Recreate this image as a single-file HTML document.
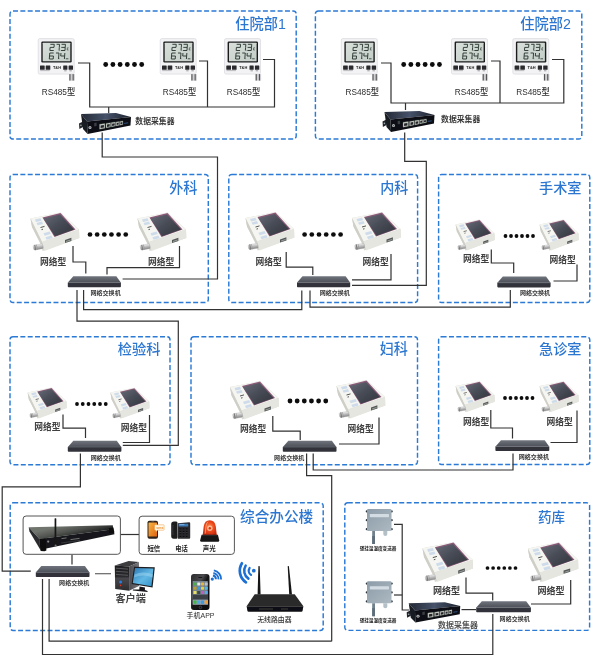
<!DOCTYPE html>
<html lang="zh"><head><meta charset="utf-8"><title>医院温湿度监控系统拓扑图</title>
<style>
html,body{margin:0;padding:0;background:#fff;font-family:"Liberation Sans",sans-serif;}
svg{display:block}
svg text{font-family:"Liberation Sans","Noto Sans CJK SC",sans-serif;}
</style></head><body>
<svg width="600" height="660" viewBox="0 0 600 660">
<filter id="soft" x="0" y="0" width="600" height="660" filterUnits="userSpaceOnUse"><feGaussianBlur stdDeviation="0.35"/></filter>
<g filter="url(#soft)">
<defs>
<linearGradient id="swTop" x1="0" y1="0" x2="0" y2="1"><stop offset="0" stop-color="#70747c"/><stop offset="1" stop-color="#4c5058"/></linearGradient>
<linearGradient id="lcd" x1="0" y1="0" x2="1" y2="1"><stop offset="0" stop-color="#d8dfda"/><stop offset="1" stop-color="#c4cdc7"/></linearGradient>
<linearGradient id="colTop" x1="0" y1="0" x2="1" y2="0"><stop offset="0" stop-color="#232935"/><stop offset="0.5" stop-color="#46526a"/><stop offset="1" stop-color="#1d222e"/></linearGradient>
<linearGradient id="scr" x1="0" y1="0" x2="1" y2="1"><stop offset="0" stop-color="#666a76"/><stop offset="0.5" stop-color="#464a54"/><stop offset="1" stop-color="#33363e"/></linearGradient>
<linearGradient id="mon" x1="0" y1="0" x2="1" y2="1"><stop offset="0" stop-color="#2a78b4"/><stop offset="0.55" stop-color="#62b8e4"/><stop offset="1" stop-color="#3290c8"/></linearGradient>
<linearGradient id="wall" x1="0" y1="0" x2="1" y2="1"><stop offset="0" stop-color="#8c9ca8"/><stop offset="1" stop-color="#adb9c2"/></linearGradient>
<radialGradient id="siren" cx="0.5" cy="0.45" r="0.6"><stop offset="0" stop-color="#ff9a5a"/><stop offset="0.5" stop-color="#ee4a1c"/><stop offset="1" stop-color="#c52a0c"/></radialGradient>
<linearGradient id="cyl" x1="0" y1="0" x2="0" y2="1"><stop offset="0" stop-color="#eeeeee"/><stop offset="0.5" stop-color="#b9b9b9"/><stop offset="1" stop-color="#8a8a8a"/></linearGradient>

<g id="thermo">
 <rect x="0" y="0" width="36" height="35.5" rx="1.6" fill="#f3f3f5" stroke="#d9d9de" stroke-width="0.7"/>
 <rect x="3.1" y="2.9" width="30.4" height="21" rx="1.2" fill="#1b1c1d"/>
 <rect x="4.5" y="4.2" width="27.6" height="18.4" rx="0.5" fill="url(#lcd)"/>
<g transform="translate(1.0 0) skewX(-4.5)" fill="none" stroke="#27342f" stroke-width="0.9" stroke-linecap="butt"><path d="M11.60 5.70h3.90M15.50 5.70v3.10M11.60 8.80h3.90M11.60 8.80v3.10M11.60 11.90h3.90M17.80 5.70h3.00M20.80 5.70v3.10M20.80 8.80v3.10M22.80 5.70h3.90M26.70 5.70v3.10M22.80 8.80h3.90M26.70 8.80v3.10M22.80 11.90h3.90M11.70 14.40h3.90M11.70 14.40v3.00M11.70 17.40h3.90M11.70 17.40v3.00M11.70 20.40h3.90M15.60 17.40v3.00M17.90 14.40h3.00M20.90 14.40v3.00M20.90 17.40v3.00M22.90 14.40v3.00M22.90 17.40h3.90M26.80 14.40v3.00M26.80 17.40v3.00"/><path d="M28.9 9.2h1.2M28.9 9.2v2.2h1.3" stroke-width="0.6"/><path d="M21.6 12v0.4M21.6 20.1v0.4" stroke-width="0.8"/></g><rect x="27.6" y="19.6" width="2.6" height="1.1" fill="#55645e"/>
 <g fill="#2c2c2e"><rect x="1.8" y="26.9" width="4.7" height="4.2" rx="0.5"/><rect x="7.5" y="26.9" width="4.6" height="4.2" rx="0.5"/><rect x="25" y="26.9" width="4.2" height="4.2" rx="0.5"/><rect x="30.4" y="26.9" width="4.4" height="4.2" rx="0.5"/></g>
 <text x="14.7" y="30.2" font-size="3.8" font-weight="bold" fill="#222" textLength="8.1" lengthAdjust="spacingAndGlyphs">T&amp;H</text>
 <rect x="2" y="31.6" width="9.5" height="0.9" fill="#b4b4ba"/>
 <rect x="26" y="31.4" width="2.4" height="1.4" fill="#b4b4ba"/><rect x="31.2" y="31.4" width="2.4" height="1.4" fill="#b4b4ba"/>
 <rect x="30.8" y="35.5" width="5.8" height="6.6" fill="#d0d0d4"/>
 <rect x="31.2" y="35.5" width="1.1" height="6.4" fill="#555"/><rect x="34.4" y="35.5" width="1.1" height="6.4" fill="#555"/>
</g>

<g id="sw">
 <path d="M5.6 0.8 L48.2 0.8 L52.6 7 L0.3 7 Z" fill="url(#swTop)"/>
 <path d="M0.2 7 H52.7 V10.9 Q52.7 11.7 51.9 11.7 H1 Q0.2 11.7 0.2 10.9 Z" fill="#30333a"/>
 <path d="M0.4 7.1 H52.5" stroke="#767a83" stroke-width="0.5"/>
</g>

<g id="col">
 <path d="M3 19.5 L7 17.4 L7 23 L3.4 25 Z" fill="#20232a"/>
 <circle cx="4.9" cy="21.4" r="0.8" fill="#9aa"/>
 <path d="M5 10 L40 9 L55 13 L11 17.5 Z" fill="url(#colTop)"/>
 <path d="M5 10 L11 17.5 L11.5 30 L7 25 Z" fill="#181b22"/>
 <path d="M11 17.5 L55 13 L54.5 21.5 L11.5 30 Z" fill="#0d0f14"/>
 <circle cx="14" cy="23.6" r="1.5" fill="#b8bcc0"/><circle cx="14" cy="23.6" r="0.7" fill="#555"/>
 <rect x="18.2" y="22" width="2.4" height="3.2" fill="#3a3d44" transform="skewY(-9)" />
 <g fill="#c9ccc8" stroke="#6f7d6c" stroke-width="0.3">
  <path d="M23.5 20.3 L28.9 19.5 L28.9 24.3 L23.5 25.2Z"/>
  <path d="M30 19.4 L34.6 18.7 L34.6 23.1 L30 23.9Z"/>
  <path d="M35.3 18.6 L39.5 18 L39.5 22.1 L35.3 22.9Z"/>
  <path d="M40.1 17.9 L43.3 17.4 L43.3 21.3 L40.1 21.9Z"/>
  <path d="M43.8 17.4 L47 16.9 L47 20.6 L43.8 21.2Z"/>
 </g>
 <g fill="#25272b">
  <path d="M24.6 21.5 L27.9 21 L27.9 23.6 L24.6 24.1Z"/><path d="M31 20.5 L33.7 20.1 L33.7 22.4 L31 22.9Z"/><path d="M36.1 19.7 L38.7 19.3 L38.7 21.4 L36.1 21.9Z"/><path d="M40.8 18.9 L42.7 18.6 L42.7 20.6 L40.8 21Z"/><path d="M44.4 18.4 L46.4 18.1 L46.4 19.9 L44.4 20.3Z"/>
 </g>
 <path d="M48.2 19.4 L52.2 18.8" stroke="#3a6ab0" stroke-width="0.7"/>
</g>

<g id="ns">
 <path d="M4.5 10.5 L34.5 4.5 L53 21.5 L53.3 30 L16.5 43 L15.5 38 L6 19 Z" fill="#d9d9d2"/>
 <path d="M4.5 10.5 L34.5 4.5 L53 21.5 L16 34 Z" fill="#f5f5f1"/>
 <path d="M16 34 L53 21.5 L53.3 30 L18.5 43 Z" fill="#e6e6e0"/>
 <path d="M4.5 10.5 L16 34 L18.5 43 L6 19 Z" fill="#cfcfc8"/>
 <path d="M16.5 9.5 L34.5 5 L49.5 21.5 L28.5 29 Z" fill="#8a5a78"/>
 <path d="M17.4 10.4 L34 6.4 L48 21.6 L29 28.2 Z" fill="url(#scr)"/>
 <g fill="#cddbea"><path d="M9 11.5 L14.5 10.3 L15.6 12.7 L10.1 14Z"/><path d="M10.6 14.9 L16 13.6 L17.1 16 L11.7 17.3Z"/>
 <path d="M17.5 25.2 L23.6 23.5 L24.8 26 L18.7 27.8Z"/><path d="M19.4 29.2 L25.4 27.4 L26.6 30 L20.6 31.8Z"/></g>
 <path d="M14.5 19.5 L18.5 18.4 M15.5 21.6 L17 21.2" stroke="#444" stroke-width="0.9"/>
 <path d="M39 31.9 L45.4 29.8 L45.4 32.9 L39 35Z" fill="#55585a"/>
 <path d="M40 33 L44.6 31.5 L44.6 32.5 L40 34Z" fill="#9aa39a"/>
 <g transform="rotate(-10 12 39)"><rect x="7.4" y="36.6" width="9.6" height="4.8" rx="1.1" fill="url(#cyl)" stroke="#9a9a9a" stroke-width="0.3"/><rect x="8.6" y="36.4" width="1.1" height="5.2" fill="#7a7a7a"/><rect x="10.6" y="36.4" width="0.7" height="5.2" fill="#999"/></g>
</g>

<g id="wsen">
 <rect x="5.2" y="22" width="2.8" height="13" fill="#6f808c"/>
 <rect x="5.2" y="27" width="2.8" height="8" fill="#5e6e7a"/>
 <path d="M16.3 22 h4 v3 q0 2 -2 2 q-2 0 -2 -2 Z" fill="#b4c0c8"/>
 <g fill="#2f373f"><circle cx="-0.2" cy="2.4" r="1.1"/><circle cx="-0.2" cy="11.2" r="1.1"/><circle cx="-0.2" cy="20.2" r="1.1"/><circle cx="24.7" cy="2.4" r="1.1"/><circle cx="24.7" cy="11.2" r="1.1"/><circle cx="24.7" cy="20.2" r="1.1"/></g>
 <rect x="0" y="0" width="24.5" height="22" rx="1.2" fill="url(#wall)"/>
 <rect x="2.8" y="5" width="19.2" height="3.2" rx="0.6" fill="#d3dce2"/>
</g>
</defs>
<rect x="0" y="0" width="600" height="660" fill="#ffffff"/>
<rect x="10" y="10.9" width="286.2" height="128.2" rx="3" fill="none" stroke="#2b7ad6" stroke-width="1.45" stroke-dasharray="5 2.35"/>
<rect x="315.4" y="10.9" width="266.4" height="128.2" rx="3" fill="none" stroke="#2b7ad6" stroke-width="1.45" stroke-dasharray="5 2.35"/>
<rect x="10" y="174.4" width="198.3" height="128.1" rx="3" fill="none" stroke="#2b7ad6" stroke-width="1.45" stroke-dasharray="5 2.35"/>
<rect x="228.8" y="174.4" width="188.8" height="128.1" rx="3" fill="none" stroke="#2b7ad6" stroke-width="1.45" stroke-dasharray="5 2.35"/>
<rect x="438.6" y="174.4" width="151.19999999999993" height="128.1" rx="3" fill="none" stroke="#2b7ad6" stroke-width="1.45" stroke-dasharray="5 2.35"/>
<rect x="10" y="336.8" width="160" height="127.89999999999998" rx="3" fill="none" stroke="#2b7ad6" stroke-width="1.45" stroke-dasharray="5 2.35"/>
<rect x="191" y="336.8" width="226.5" height="127.89999999999998" rx="3" fill="none" stroke="#2b7ad6" stroke-width="1.45" stroke-dasharray="5 2.35"/>
<rect x="438.6" y="336.8" width="151.19999999999993" height="127.80000000000001" rx="3" fill="none" stroke="#2b7ad6" stroke-width="1.45" stroke-dasharray="5 2.35"/>
<rect x="10.2" y="502.8" width="313.0" height="127.69999999999999" rx="3" fill="none" stroke="#2b7ad6" stroke-width="1.45" stroke-dasharray="5 2.35"/>
<rect x="344.8" y="502.8" width="244.8" height="127.59999999999997" rx="3" fill="none" stroke="#2b7ad6" stroke-width="1.45" stroke-dasharray="5 2.35"/>
<polyline points="78,63 89.7,63 89.7,107 274.5,107 274.5,59.5 263,59.5" fill="none" stroke="#303030" stroke-width="1.2"/>
<polyline points="199,61 207.5,61 207.5,107" fill="none" stroke="#303030" stroke-width="1.2"/>
<polyline points="108.7,107 108.7,113" fill="none" stroke="#303030" stroke-width="1.2"/>
<polyline points="102.2,132.5 102.2,157 217.5,157 217.5,279 122.6,279" fill="none" stroke="#303030" stroke-width="1.2"/>
<polyline points="381,63 391,63 391,103 563.8,103 563.8,59.5 552,59.5" fill="none" stroke="#303030" stroke-width="1.2"/>
<polyline points="491,61 500,61 500,103" fill="none" stroke="#303030" stroke-width="1.2"/>
<polyline points="405.5,103 405.5,110" fill="none" stroke="#303030" stroke-width="1.2"/>
<polyline points="404.7,132.5 404.7,161.4 426.3,161.4 426.3,285.4 352,285.4" fill="none" stroke="#303030" stroke-width="1.2"/>
<polyline points="73,246 73,262 85.8,262 85.8,273.5" fill="none" stroke="#303030" stroke-width="1.2"/>
<polyline points="179.5,246 179.5,267.6 107,267.6 107,274.5" fill="none" stroke="#303030" stroke-width="1.2"/>
<polyline points="83.6,290 83.6,309.7 301.8,309.7 301.8,290.5" fill="none" stroke="#303030" stroke-width="1.2"/>
<polyline points="77,290 77,321.2 178.3,321.2 178.3,445.3 122.8,445.3" fill="none" stroke="#303030" stroke-width="1.2"/>
<polyline points="286.2,252 286.2,267.2 312.8,267.2 312.8,275" fill="none" stroke="#303030" stroke-width="1.2"/>
<polyline points="391,254 391,279.8 352,279.8" fill="none" stroke="#303030" stroke-width="1.2"/>
<polyline points="310,290.5 310,307.2 510.3,307.2 510.3,290" fill="none" stroke="#303030" stroke-width="1.2"/>
<polyline points="491.3,249.5 491.3,263 513.7,263 513.7,273" fill="none" stroke="#303030" stroke-width="1.2"/>
<polyline points="577,264.5 577,281 553.5,281" fill="none" stroke="#303030" stroke-width="1.2"/>
<polyline points="63,414.5 63,428.2 85.5,428.2 85.5,438" fill="none" stroke="#303030" stroke-width="1.2"/>
<polyline points="149.5,415 149.5,442.5 122.8,442.5" fill="none" stroke="#303030" stroke-width="1.2"/>
<polyline points="80.4,453.5 80.4,486.8 2.2,486.8 2.2,571.2 30.8,571.2" fill="none" stroke="#303030" stroke-width="1.2"/>
<polyline points="272.8,416 272.8,431.2 300.2,431.2 300.2,440" fill="none" stroke="#303030" stroke-width="1.2"/>
<polyline points="379,417.5 379,444 339,444" fill="none" stroke="#303030" stroke-width="1.2"/>
<polyline points="306.6,453.5 306.6,475.6 331.7,475.6 331.7,641.2" fill="none" stroke="#303030" stroke-width="1.2"/>
<polyline points="313.2,453.5 313.2,470 513,470 513,453.5" fill="none" stroke="#303030" stroke-width="1.2"/>
<polyline points="490.8,410 490.8,428 512.5,428 512.5,438.5" fill="none" stroke="#303030" stroke-width="1.2"/>
<polyline points="577,410.5 577,442.5 550.5,442.5" fill="none" stroke="#303030" stroke-width="1.2"/>
<polyline points="120.5,534.5 139,534.5" fill="none" stroke="#303030" stroke-width="1.2"/>
<polyline points="72,554.5 72,564.5" fill="none" stroke="#303030" stroke-width="1.2"/>
<polyline points="95,573.7 111,573.7" fill="none" stroke="#666" stroke-width="1.2"/>
<polyline points="49.1,579 49.1,641.2 331.7,641.2" fill="none" stroke="#303030" stroke-width="1.2"/>
<polyline points="42.5,579 42.5,654.5 492.8,654.5 492.8,614" fill="none" stroke="#303030" stroke-width="1.2"/>
<polyline points="394,524.3 402.2,524.3 402.2,610 409,610" fill="none" stroke="#303030" stroke-width="1.2"/>
<polyline points="394,595 402.3,595" fill="none" stroke="#303030" stroke-width="1.2"/>
<polyline points="461.5,609.6 476,609.6" fill="none" stroke="#303030" stroke-width="1.2"/>
<polyline points="466,577.5 466,593.2 492.7,593.2 492.7,600.5" fill="none" stroke="#303030" stroke-width="1.2"/>
<polyline points="570.7,580 570.7,604 531,604" fill="none" stroke="#303030" stroke-width="1.2"/>
<use href="#thermo" x="38.2" y="38.6"/>
<use href="#thermo" x="160.2" y="38.6"/>
<use href="#thermo" x="224.5" y="38.6"/>
<use href="#thermo" x="341.3" y="38.6"/>
<use href="#thermo" x="451.5" y="38.6"/>
<use href="#thermo" x="512.8" y="38.6"/>
<text x="41.7" y="95.2" font-size="9" font-weight="500" fill="#2e2e2e" textLength="33.5" lengthAdjust="spacingAndGlyphs">RS485型</text>
<text x="162.7" y="95.2" font-size="9" font-weight="500" fill="#2e2e2e" textLength="33.5" lengthAdjust="spacingAndGlyphs">RS485型</text>
<text x="226.7" y="95.2" font-size="9" font-weight="500" fill="#2e2e2e" textLength="33.5" lengthAdjust="spacingAndGlyphs">RS485型</text>
<text x="345.5" y="95.2" font-size="9" font-weight="500" fill="#2e2e2e" textLength="33.5" lengthAdjust="spacingAndGlyphs">RS485型</text>
<text x="454.7" y="95.2" font-size="9" font-weight="500" fill="#2e2e2e" textLength="33.5" lengthAdjust="spacingAndGlyphs">RS485型</text>
<text x="516.2" y="95.2" font-size="9" font-weight="500" fill="#2e2e2e" textLength="33.5" lengthAdjust="spacingAndGlyphs">RS485型</text>
<circle cx="105.70" cy="64.5" r="2.4" fill="#0a0a0a"/>
<circle cx="112.90" cy="64.5" r="2.4" fill="#0a0a0a"/>
<circle cx="120.10" cy="64.5" r="2.4" fill="#0a0a0a"/>
<circle cx="127.30" cy="64.5" r="2.4" fill="#0a0a0a"/>
<circle cx="134.50" cy="64.5" r="2.4" fill="#0a0a0a"/>
<circle cx="141.70" cy="64.5" r="2.4" fill="#0a0a0a"/>
<circle cx="403.70" cy="64.5" r="2.4" fill="#0a0a0a"/>
<circle cx="410.85" cy="64.5" r="2.4" fill="#0a0a0a"/>
<circle cx="418.00" cy="64.5" r="2.4" fill="#0a0a0a"/>
<circle cx="425.15" cy="64.5" r="2.4" fill="#0a0a0a"/>
<circle cx="432.30" cy="64.5" r="2.4" fill="#0a0a0a"/>
<circle cx="439.45" cy="64.5" r="2.4" fill="#0a0a0a"/>
<use href="#col" x="76" y="104"/>
<use href="#col" x="379.5" y="102"/>
<text x="135.3" y="124" font-size="7.8" font-weight="bold" fill="#3a3a3a" textLength="39.2" lengthAdjust="spacingAndGlyphs">数据采集器</text>
<text x="441.1" y="122" font-size="7.8" font-weight="bold" fill="#3a3a3a" textLength="39.2" lengthAdjust="spacingAndGlyphs">数据采集器</text>
<text x="235.3" y="28.8" font-size="14.5" font-weight="500" fill="#2c76d0" textLength="50.5" lengthAdjust="spacingAndGlyphs">住院部1</text>
<text x="520.3" y="28.8" font-size="14.5" font-weight="500" fill="#2c76d0" textLength="50.7" lengthAdjust="spacingAndGlyphs">住院部2</text>
<use href="#ns" transform="translate(26 208) scale(1.0)"/>
<use href="#ns" transform="translate(133 208) scale(1.0)"/>
<text x="39.9" y="264.6" font-size="8.8" font-weight="bold" fill="#404040" textLength="26.3" lengthAdjust="spacingAndGlyphs">网络型</text>
<text x="147.9" y="264.6" font-size="8.8" font-weight="bold" fill="#404040" textLength="26.3" lengthAdjust="spacingAndGlyphs">网络型</text>
<circle cx="90.00" cy="234.5" r="2.35" fill="#0a0a0a"/>
<circle cx="97.15" cy="234.5" r="2.35" fill="#0a0a0a"/>
<circle cx="104.30" cy="234.5" r="2.35" fill="#0a0a0a"/>
<circle cx="111.45" cy="234.5" r="2.35" fill="#0a0a0a"/>
<circle cx="118.60" cy="234.5" r="2.35" fill="#0a0a0a"/>
<circle cx="125.75" cy="234.5" r="2.35" fill="#0a0a0a"/>
<use href="#sw" transform="translate(67.6 275.5) scale(1.0114068441064639 1)"/>
<text x="90.5" y="295.3" font-size="6" font-weight="bold" fill="#363636" textLength="30.2" lengthAdjust="spacingAndGlyphs">网络交换机</text>
<text x="169.2" y="193" font-size="14.4" font-weight="500" fill="#2c76d0" textLength="28.2" lengthAdjust="spacingAndGlyphs">外科</text>
<use href="#ns" transform="translate(241 207.5) scale(1.0)"/>
<use href="#ns" transform="translate(347.5 207.5) scale(1.0)"/>
<text x="255.4" y="264.6" font-size="8.8" font-weight="bold" fill="#404040" textLength="26.3" lengthAdjust="spacingAndGlyphs">网络型</text>
<text x="362.4" y="264.6" font-size="8.8" font-weight="bold" fill="#404040" textLength="26.3" lengthAdjust="spacingAndGlyphs">网络型</text>
<circle cx="304.60" cy="234.5" r="2.35" fill="#0a0a0a"/>
<circle cx="311.80" cy="234.5" r="2.35" fill="#0a0a0a"/>
<circle cx="319.00" cy="234.5" r="2.35" fill="#0a0a0a"/>
<circle cx="326.20" cy="234.5" r="2.35" fill="#0a0a0a"/>
<circle cx="333.40" cy="234.5" r="2.35" fill="#0a0a0a"/>
<circle cx="340.60" cy="234.5" r="2.35" fill="#0a0a0a"/>
<use href="#sw" transform="translate(296.8 275.5) scale(1.0133079847908744 1)"/>
<text x="319.7" y="295.3" font-size="6" font-weight="bold" fill="#363636" textLength="30.2" lengthAdjust="spacingAndGlyphs">网络交换机</text>
<text x="380.3" y="193" font-size="14.4" font-weight="500" fill="#2c76d0" textLength="28" lengthAdjust="spacingAndGlyphs">内科</text>
<use href="#ns" transform="translate(452 216) scale(0.8)"/>
<use href="#ns" transform="translate(536 216) scale(0.8)"/>
<text x="462.9" y="261.6" font-size="8.8" font-weight="bold" fill="#404040" textLength="26.3" lengthAdjust="spacingAndGlyphs">网络型</text>
<text x="549.4" y="262.6" font-size="8.8" font-weight="bold" fill="#404040" textLength="26.3" lengthAdjust="spacingAndGlyphs">网络型</text>
<circle cx="505.50" cy="236" r="1.9" fill="#0a0a0a"/>
<circle cx="511.00" cy="236" r="1.9" fill="#0a0a0a"/>
<circle cx="516.50" cy="236" r="1.9" fill="#0a0a0a"/>
<circle cx="522.00" cy="236" r="1.9" fill="#0a0a0a"/>
<circle cx="527.50" cy="236" r="1.9" fill="#0a0a0a"/>
<circle cx="533.00" cy="236" r="1.9" fill="#0a0a0a"/>
<use href="#sw" transform="translate(497.1 275.7) scale(1.015209125475285 1)"/>
<text x="519.9" y="295.3" font-size="6" font-weight="bold" fill="#363636" textLength="30.2" lengthAdjust="spacingAndGlyphs">网络交换机</text>
<text x="539" y="193.1" font-size="14.2" font-weight="500" fill="#2c76d0" textLength="42.5" lengthAdjust="spacingAndGlyphs">手术室</text>
<use href="#ns" transform="translate(24 384) scale(0.8)"/>
<use href="#ns" transform="translate(106.8 384.2) scale(0.8)"/>
<text x="34.2" y="430" font-size="8.8" font-weight="bold" fill="#404040" textLength="26.3" lengthAdjust="spacingAndGlyphs">网络型</text>
<text x="120.7" y="431.4" font-size="8.8" font-weight="bold" fill="#404040" textLength="26.3" lengthAdjust="spacingAndGlyphs">网络型</text>
<circle cx="77.00" cy="404" r="1.9" fill="#0a0a0a"/>
<circle cx="82.75" cy="404" r="1.9" fill="#0a0a0a"/>
<circle cx="88.50" cy="404" r="1.9" fill="#0a0a0a"/>
<circle cx="94.25" cy="404" r="1.9" fill="#0a0a0a"/>
<circle cx="100.00" cy="404" r="1.9" fill="#0a0a0a"/>
<circle cx="105.75" cy="404" r="1.9" fill="#0a0a0a"/>
<use href="#sw" transform="translate(67.6 440) scale(1.0209125475285172 1)"/>
<text x="90.7" y="459.7" font-size="6" font-weight="bold" fill="#363636" textLength="30.2" lengthAdjust="spacingAndGlyphs">网络交换机</text>
<text x="117.7" y="354.2" font-size="14.2" font-weight="500" fill="#2c76d0" textLength="42.8" lengthAdjust="spacingAndGlyphs">检验科</text>
<use href="#ns" transform="translate(225.5 376.5) scale(1.0)"/>
<use href="#ns" transform="translate(332 375.5) scale(1.0)"/>
<text x="239.9" y="431.6" font-size="8.8" font-weight="bold" fill="#404040" textLength="26.3" lengthAdjust="spacingAndGlyphs">网络型</text>
<text x="347.4" y="431.6" font-size="8.8" font-weight="bold" fill="#404040" textLength="26.3" lengthAdjust="spacingAndGlyphs">网络型</text>
<circle cx="290.00" cy="401" r="2.4" fill="#0a0a0a"/>
<circle cx="297.15" cy="401" r="2.4" fill="#0a0a0a"/>
<circle cx="304.30" cy="401" r="2.4" fill="#0a0a0a"/>
<circle cx="311.45" cy="401" r="2.4" fill="#0a0a0a"/>
<circle cx="318.60" cy="401" r="2.4" fill="#0a0a0a"/>
<circle cx="325.75" cy="401" r="2.4" fill="#0a0a0a"/>
<use href="#sw" transform="translate(282.6 440) scale(1.0228136882129277 1)"/>
<text x="274.1" y="459.8" font-size="6" font-weight="bold" fill="#363636" textLength="30.2" lengthAdjust="spacingAndGlyphs">网络交换机</text>
<text x="379.7" y="354.2" font-size="14.4" font-weight="500" fill="#2c76d0" textLength="28.2" lengthAdjust="spacingAndGlyphs">妇科</text>
<use href="#ns" transform="translate(452 377.7) scale(0.8)"/>
<use href="#ns" transform="translate(536 377.7) scale(0.8)"/>
<text x="462.9" y="424.6" font-size="8.8" font-weight="bold" fill="#404040" textLength="26.3" lengthAdjust="spacingAndGlyphs">网络型</text>
<text x="546.4" y="424.6" font-size="8.8" font-weight="bold" fill="#404040" textLength="26.3" lengthAdjust="spacingAndGlyphs">网络型</text>
<circle cx="505.00" cy="398" r="1.9" fill="#0a0a0a"/>
<circle cx="510.50" cy="398" r="1.9" fill="#0a0a0a"/>
<circle cx="516.00" cy="398" r="1.9" fill="#0a0a0a"/>
<circle cx="521.50" cy="398" r="1.9" fill="#0a0a0a"/>
<circle cx="527.00" cy="398" r="1.9" fill="#0a0a0a"/>
<circle cx="532.50" cy="398" r="1.9" fill="#0a0a0a"/>
<use href="#sw" transform="translate(495.2 439.4) scale(1.026615969581749 1)"/>
<text x="518.8" y="459" font-size="6" font-weight="bold" fill="#363636" textLength="30.2" lengthAdjust="spacingAndGlyphs">网络交换机</text>
<text x="539" y="354.2" font-size="14.2" font-weight="500" fill="#2c76d0" textLength="42.5" lengthAdjust="spacingAndGlyphs">急诊室</text>
<text x="240.1" y="522" font-size="14.5" font-weight="500" fill="#2c76d0" textLength="73" lengthAdjust="spacingAndGlyphs">综合办公楼</text>
<rect x="23.1" y="516" width="97.3" height="38.3" rx="3" fill="#fff" stroke="#555" stroke-width="1"/>
<rect x="139.1" y="516.2" width="95.3" height="38.2" rx="3" fill="#fff" stroke="#555" stroke-width="1"/>
<g>
<linearGradient id="srvTop" gradientUnits="userSpaceOnUse" x1="70" y1="524" x2="73" y2="537"><stop offset="0" stop-color="#70746e"/><stop offset="0.5" stop-color="#50534f"/><stop offset="1" stop-color="#242625"/></linearGradient>
<path d="M28.7 527.3 L112.8 525.3 L113.3 529.3 L39.5 539 Z" fill="url(#srvTop)"/>
<path d="M28.7 527.3 L39.5 539 L40.3 549.8 L29.5 531.5 Z" fill="#2a2c2e"/>
<path d="M39.5 539 L113.3 529.3 L114.5 534.3 L40.3 549.8 Z" fill="#17191b"/>
<path d="M39.5 539 L45.6 538.2 L46.4 550.4 L44.5 551.2 L40.6 551 Z" fill="#0c0d0e"/>
<path d="M108.6 528.2 L113.4 527.6 L114.4 532.6 L109.4 533.4 Z" fill="#0c0d0e"/>
<rect x="54.6" y="518.2" width="1.7" height="26.6" rx="0.6" fill="#141414"/>
<circle cx="55.6" cy="545.4" r="1" fill="#777"/>
<circle cx="48.2" cy="541.6" r="1.1" fill="#8a8a8a"/>
<path d="M61.5 538.6 L66.5 537.9 M70.5 539.6 L79.5 538.4" stroke="#8a8a8a" stroke-width="0.8"/>
<path d="M61 543 L80 540.4" stroke="#55585b" stroke-width="0.5"/>
</g>
<g>
<linearGradient id="smsScr" x1="0" y1="0" x2="1" y2="1"><stop offset="0" stop-color="#f9b445"/><stop offset="1" stop-color="#de6410"/></linearGradient>
<rect x="147.5" y="520.7" width="10.5" height="18" rx="1.9" fill="#2e221a"/>
<rect x="148.5" y="522.6" width="8.5" height="14" rx="0.4" fill="url(#smsScr)"/>
<rect x="151.4" y="521.4" width="2.8" height="0.5" rx="0.25" fill="#7a6a5a"/>
<path d="M155.2 524.8 h8.3 q0.6 0 0.6 0.6 v4.2 q0 0.6 -0.6 0.6 h-5.9 l-1.7 1.5 v-1.5 h-0.7 q-0.6 0 -0.6 -0.6 v-4.2 q0 -0.6 0.6 -0.6 Z" fill="#fffaf0" stroke="#f09a38" stroke-width="0.5"/>
<text x="156.2" y="529.1" font-size="4" font-weight="bold" fill="#ee8a22" textLength="7.2" lengthAdjust="spacingAndGlyphs">sms</text>
<path d="M171.2 524.2 Q171.2 521.5 174 521.5 L176.2 521.5 Q177.6 521.5 177.5 523 L177.6 537.2 Q177.6 538.7 176.2 538.7 L173.6 538.7 Q171.2 538.7 171.2 536 Z" fill="#1c1c1e"/>
<path d="M173 525 Q172.6 530 173 535" stroke="#4a4a4e" stroke-width="0.6" fill="none"/>
<path d="M177.9 523.3 L189.2 522.2 Q190.2 522.2 190.2 523.2 L190.2 537.7 Q190.2 538.7 189.2 538.7 L177.9 538.7 Z" fill="#2b2b2e"/>
<rect x="178.6" y="523.8" width="9.6" height="2.7" rx="0.3" fill="#3d7ab8"/>
<rect x="179.4" y="524.4" width="5" height="0.7" fill="#9cc8ee"/>
<rect x="179.3" y="528.0" width="2.3" height="1.6" rx="0.3" fill="#0b0b0c" stroke="#4a4a4e" stroke-width="0.25"/><rect x="182.4" y="528.0" width="2.3" height="1.6" rx="0.3" fill="#0b0b0c" stroke="#4a4a4e" stroke-width="0.25"/><rect x="185.5" y="528.0" width="2.3" height="1.6" rx="0.3" fill="#0b0b0c" stroke="#4a4a4e" stroke-width="0.25"/><rect x="179.3" y="530.5" width="2.3" height="1.6" rx="0.3" fill="#0b0b0c" stroke="#4a4a4e" stroke-width="0.25"/><rect x="182.4" y="530.5" width="2.3" height="1.6" rx="0.3" fill="#0b0b0c" stroke="#4a4a4e" stroke-width="0.25"/><rect x="185.5" y="530.5" width="2.3" height="1.6" rx="0.3" fill="#0b0b0c" stroke="#4a4a4e" stroke-width="0.25"/><rect x="179.3" y="533.0" width="2.3" height="1.6" rx="0.3" fill="#0b0b0c" stroke="#4a4a4e" stroke-width="0.25"/><rect x="182.4" y="533.0" width="2.3" height="1.6" rx="0.3" fill="#0b0b0c" stroke="#4a4a4e" stroke-width="0.25"/><rect x="185.5" y="533.0" width="2.3" height="1.6" rx="0.3" fill="#0b0b0c" stroke="#4a4a4e" stroke-width="0.25"/><rect x="179.3" y="535.5" width="2.3" height="1.6" rx="0.3" fill="#0b0b0c" stroke="#4a4a4e" stroke-width="0.25"/><rect x="182.4" y="535.5" width="2.3" height="1.6" rx="0.3" fill="#0b0b0c" stroke="#4a4a4e" stroke-width="0.25"/><rect x="185.5" y="535.5" width="2.3" height="1.6" rx="0.3" fill="#0b0b0c" stroke="#4a4a4e" stroke-width="0.25"/>
<path d="M202.7 535 L203.7 526.6 Q204.6 520.3 209.75 520.3 Q214.9 520.3 215.8 526.6 L216.8 535 Z" fill="url(#siren)"/>
<path d="M205.2 533.6 L205.9 526.6 Q206.3 523 208 521.8" stroke="#ffb98a" stroke-width="0.9" fill="none" opacity="0.8"/>
<circle cx="209.8" cy="528.2" r="2.7" fill="#ffd2b4" opacity="0.75"/>
<circle cx="209.8" cy="528.2" r="1.2" fill="#d8380c"/>
<path d="M201.6 534.8 H217.9 L219.2 540.2 Q219.4 541.7 217.9 541.7 H201.5 Q200 541.7 200.2 540.2 Z" fill="#151515"/>
<path d="M202 535.4 H217.6" stroke="#4a4a4a" stroke-width="0.5"/>
</g>
<text x="147.4" y="551.2" font-size="6.4" font-weight="bold" fill="#222" textLength="12.8" lengthAdjust="spacingAndGlyphs">短信</text>
<text x="175.2" y="551.2" font-size="6.4" font-weight="bold" fill="#222" textLength="12.6" lengthAdjust="spacingAndGlyphs">电话</text>
<text x="202.7" y="551.2" font-size="6.4" font-weight="bold" fill="#222" textLength="12.9" lengthAdjust="spacingAndGlyphs">声光</text>
<use href="#sw" transform="translate(35.6 565.3) scale(1.0228136882129277 1)"/>
<text x="59.1" y="584.8" font-size="6" font-weight="bold" fill="#363636" textLength="30.2" lengthAdjust="spacingAndGlyphs">网络交换机</text>
<g>
<linearGradient id="twSide" x1="0" y1="0" x2="1" y2="0"><stop offset="0" stop-color="#4a4a4e"/><stop offset="1" stop-color="#77777b"/></linearGradient>
<linearGradient id="twFront" x1="0" y1="0" x2="0" y2="1"><stop offset="0" stop-color="#1e1e20"/><stop offset="0.45" stop-color="#2a2a2d"/><stop offset="0.5" stop-color="#48484c"/><stop offset="1" stop-color="#2c2c2f"/></linearGradient>
<path d="M114.75 565.5 L128.7 561 L139 561.9 L129.15 566.4 Z" fill="#3c3c3f"/>
<path d="M129.15 566.4 L139 561.9 L139 586 L129.15 590.7 Z" fill="url(#twSide)"/>
<path d="M114.75 565.5 L129.15 566.4 L129.15 590.7 L115.2 588.9 Z" fill="url(#twFront)"/>
<path d="M116 568.2 L128 569.1 M116 571.3 L128 572.2 M116 574.4 L128 575.3" stroke="#5c5c60" stroke-width="0.9"/>
<circle cx="120.6" cy="582.1" r="1.5" fill="#2a7be0"/><circle cx="120.6" cy="585.4" r="0.8" fill="#e03020"/>
<path d="M139.5 586.6 L145 587.4 L144.9 590 L147.6 591 L147.5 592 L132.8 590.6 L132.9 589.6 L139.3 589.4 Z" fill="#19191b"/>
<path d="M134.1 566.8 L154.8 567.25 L152.55 587.5 L131.6 583.9 Z" fill="#1b1d21"/>
<path d="M135 568.1 L153.5 568.5 L151.4 586.2 L132.8 582.9 Z" fill="url(#mon)"/>
<path d="M134.6 574.5 Q143 570.5 152.9 574.2 L152.5 577.4 Q143 573.4 134 577.6 Z" fill="#a8dcf4" opacity="0.45"/>
</g>
<text x="115.4" y="602.4" font-size="10" font-weight="bold" fill="#444" textLength="30.4" lengthAdjust="spacingAndGlyphs">客户端</text>
<g>
<linearGradient id="phb" x1="0" y1="0" x2="1" y2="1"><stop offset="0" stop-color="#2a2a2c"/><stop offset="0.35" stop-color="#4a4a4e"/><stop offset="0.5" stop-color="#141416"/><stop offset="1" stop-color="#0c0c0e"/></linearGradient>
<rect x="191" y="574.1" width="18.5" height="35.8" rx="2.9" fill="url(#phb)"/>
<rect x="192.7" y="581" width="15.1" height="23.6" fill="#77838f"/>
<rect x="192.8" y="594.6" width="15.2" height="5" fill="#3a3f47"/>
<rect x="192.8" y="599.8" width="15.2" height="4.8" fill="#98a2ac"/>
<rect x="193.5" y="582.4" width="3" height="3" rx="0.6" fill="#4ab04a"/><rect x="197.25" y="582.4" width="3" height="3" rx="0.6" fill="#e8e8e8"/><rect x="201.0" y="582.4" width="3" height="3" rx="0.6" fill="#e8b838"/><rect x="204.75" y="582.4" width="3" height="3" rx="0.6" fill="#b8c0c8"/><rect x="193.5" y="586.7" width="3" height="3" rx="0.6" fill="#b8a030"/><rect x="197.25" y="586.7" width="3" height="3" rx="0.6" fill="#3a9ae0"/><rect x="201.0" y="586.7" width="3" height="3" rx="0.6" fill="#e8d040"/><rect x="204.75" y="586.7" width="3" height="3" rx="0.6" fill="#50b8e0"/><rect x="193.5" y="591.0" width="3" height="3" rx="0.6" fill="#e8e060"/><rect x="197.25" y="591.0" width="3" height="3" rx="0.6" fill="#40464e"/><rect x="201.0" y="591.0" width="3" height="3" rx="0.6" fill="#c060c0"/><rect x="204.75" y="591.0" width="3" height="3" rx="0.6" fill="#5aa8e8"/><rect x="193.5" y="600.6" width="3" height="3.2" rx="0.6" fill="#3cb84a"/><rect x="197.25" y="600.6" width="3" height="3.2" rx="0.6" fill="#48a8e8"/><rect x="201.0" y="600.6" width="3" height="3.2" rx="0.6" fill="#3a9ae0"/><rect x="204.75" y="600.6" width="3" height="3.2" rx="0.6" fill="#f0a030"/>
<circle cx="200.4" cy="607.4" r="1.3" fill="none" stroke="#6a6a6e" stroke-width="0.5"/>
<rect x="198.4" y="577.3" width="4" height="0.8" rx="0.4" fill="#050506"/>
</g>
<g fill="none" stroke="#1c6fd4" stroke-linecap="butt">
<circle cx="212.3" cy="579.1" r="1.6" fill="#1c6fd4" stroke="none"/>
<path d="M212.93 575.55 A3.6 3.6 0 0 1 215.90 579.29" stroke-width="1.9"/>
<path d="M213.38 572.99 A6.2 6.2 0 0 1 218.49 579.42" stroke-width="1.9"/>
<path d="M213.83 570.43 A8.8 8.8 0 0 1 221.09 579.56" stroke-width="1.9"/>
</g>
<g fill="none" stroke="#1c6fd4" stroke-linecap="round">
<circle cx="253.8" cy="570.7" r="1.9" fill="#1c6fd4" stroke="none"/>
<path d="M251.00 574.85 A5.0 5.0 0 0 1 249.56 568.05" stroke-width="2.3"/>
<path d="M248.43 578.66 A9.6 9.6 0 0 1 245.66 565.61" stroke-width="2.5"/>
<path d="M245.97 582.31 A14.0 14.0 0 0 1 241.93 563.28" stroke-width="2.7"/>
</g>
<g>
<path d="M258.4 566.3 Q259 565.6 259.7 566.3 L260.6 594.6 L257.6 594.6 Z" fill="#161616"/>
<path d="M287.7 566.3 Q288.3 565.6 288.9 566.3 L292 594.6 L289.2 594.6 Z" fill="#161616"/>
<path d="M254.7 594.3 L294.7 594.3 L303.4 606.3 L246.6 606.3 Z" fill="#29292b"/>
<path d="M246.6 606.3 H303.4 L302.6 610.8 Q302.4 611.8 301.4 611.8 H248.6 Q247.6 611.8 247.4 610.8 Z" fill="#111112"/>
<path d="M259 609 h14 M281 609 h7" stroke="#5a5a5a" stroke-width="0.6"/>
</g>
<text x="186.6" y="618.3" font-size="6.5" font-weight="500" fill="#333" textLength="27.9" lengthAdjust="spacingAndGlyphs">手机APP</text>
<text x="257.2" y="622.2" font-size="6.8" font-weight="500" fill="#333" textLength="34.4" lengthAdjust="spacingAndGlyphs">无线路由器</text>
<text x="537.9" y="522.4" font-size="13.4" font-weight="500" fill="#2c76d0" textLength="27" lengthAdjust="spacingAndGlyphs">药库</text>
<use href="#wsen" x="367" y="509"/>
<use href="#wsen" x="367" y="581.2"/>
<text x="359.7" y="549.9" font-size="4.6" font-weight="bold" fill="#1c1c1c" textLength="36.7" lengthAdjust="spacingAndGlyphs">壁挂温湿度变送器</text>
<text x="359.7" y="621.9" font-size="4.6" font-weight="bold" fill="#1c1c1c" textLength="36.7" lengthAdjust="spacingAndGlyphs">壁挂温湿度变送器</text>
<use href="#ns" transform="translate(417.8 537.4) scale(1.035)"/>
<use href="#ns" transform="translate(523.2 537.6) scale(1.035)"/>
<text x="432.9" y="593.6" font-size="9.1" font-weight="bold" fill="#404040" textLength="27.3" lengthAdjust="spacingAndGlyphs">网络型</text>
<text x="537.4" y="593.6" font-size="9.1" font-weight="bold" fill="#404040" textLength="27.3" lengthAdjust="spacingAndGlyphs">网络型</text>
<circle cx="487.50" cy="568" r="1.85" fill="#0a0a0a"/>
<circle cx="493.10" cy="568" r="1.85" fill="#0a0a0a"/>
<circle cx="498.70" cy="568" r="1.85" fill="#0a0a0a"/>
<circle cx="504.30" cy="568" r="1.85" fill="#0a0a0a"/>
<circle cx="509.90" cy="568" r="1.85" fill="#0a0a0a"/>
<circle cx="515.50" cy="568" r="1.85" fill="#0a0a0a"/>
<use href="#col" transform="translate(403.6 593.5) scale(1.03 0.965)"/>
<text x="438.1" y="628.4" font-size="7.9" font-weight="bold" fill="#555" textLength="39.8" lengthAdjust="spacingAndGlyphs">数据采集器</text>
<use href="#sw" transform="translate(476 600.5) scale(1.0418250950570342 1)"/>
<text x="499.6" y="620.6" font-size="6" font-weight="bold" fill="#363636" textLength="30.2" lengthAdjust="spacingAndGlyphs">网络交换机</text>
</g>
</svg>
</body></html>
